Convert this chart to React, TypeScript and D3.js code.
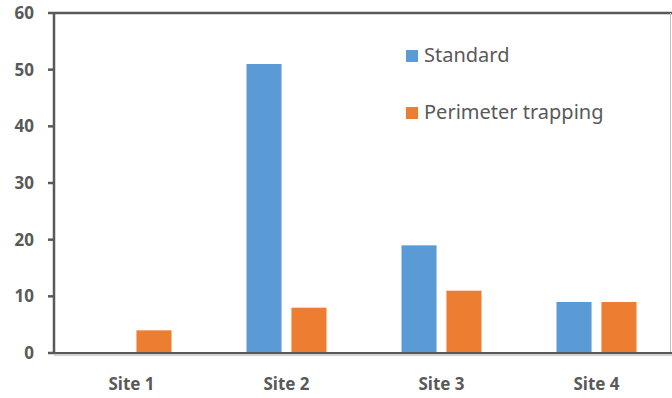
import * as d3 from 'd3';

const categories = ['Site 1', 'Site 2', 'Site 3', 'Site 4'];
const seriesNames = ['Standard', 'Perimeter trapping'];
const standardValues = [0, 51, 19, 9];
const perimeterValues = [4, 8, 11, 9];
const yTicks = [0, 10, 20, 30, 40, 50, 60];
const colors = ['#5B9BD5', '#ED7D31'];

const W = 672;
const H = 398;
const plot = { left: 54, right: 674, top: 13, bottom: 353 };
const axisColor = '#595959';
const font = "'Noto Sans', 'DejaVu Sans', sans-serif";

const App = () => {
  const x = d3.scaleBand().domain(categories).range([plot.left, plot.right]);
  // two bars per site, about 35px wide with a 10px gap
  const inner = d3
    .scaleBand()
    .domain(seriesNames)
    .range([0, 80])
    .paddingInner(0.22);
  const y = d3.scaleLinear().domain([0, 60]).range([plot.bottom, plot.top]);
  const series = [standardValues, perimeterValues];

  return (
    <svg
      width={W}
      height={H}
      style={{ position: 'absolute', left: 0, top: 0, background: '#fff' }}
      fontFamily={font}
    >
      {/* frame */}
      <line x1={plot.left} x2={W} y1={plot.top} y2={plot.top} stroke={axisColor} strokeWidth={2.5} />
      <line x1={670.5} x2={670.5} y1={plot.top} y2={plot.bottom} stroke="#bfbfbf" strokeWidth={1} />

      {/* bars */}
      {categories.map((c, i) => {
        const cx = (x(c) || 0) + x.bandwidth() / 2;
        return seriesNames.map((s, j) => {
          const v = series[j][i];
          if (!v) return null;
          return (
            <rect
              key={c + s}
              x={cx - 40 + (inner(s) || 0)}
              y={y(v)}
              width={inner.bandwidth()}
              height={y(0) - y(v)}
              fill={colors[j]}
            />
          );
        });
      })}

      {/* y axis */}
      <line x1={plot.left} x2={plot.left} y1={plot.top - 1} y2={plot.bottom + 1} stroke={axisColor} strokeWidth={2.5} />
      {yTicks.map((t) => (
        <g key={t}>
          <line x1={plot.left - 6} x2={plot.left} y1={y(t)} y2={y(t)} stroke={axisColor} strokeWidth={2.5} />
          <text
            x={34}
            y={y(t)}
            dy="0.35em"
            textAnchor="end"
            fontSize={17}
            fontWeight="bold"
            fill={axisColor}
          >
            {t}
          </text>
        </g>
      ))}

      {/* x axis */}
      <line x1={plot.left} x2={W} y1={plot.bottom} y2={plot.bottom} stroke={axisColor} strokeWidth={2} />
      <line x1={plot.left} x2={W} y1={plot.bottom + 2} y2={plot.bottom + 2} stroke="#a6a6a6" strokeWidth={1} />
      {categories.map((c) => (
        <text
          key={c}
          x={(x(c) || 0) + x.bandwidth() / 2}
          y={390}
          textAnchor="middle"
          fontSize={17}
          fontWeight="bold"
          fill={axisColor}
        >
          {c}
        </text>
      ))}

      {/* legend */}
      {seriesNames.map((s, j) => (
        <g key={s} transform={`translate(406, ${50 + j * 57})`}>
          <rect width={12} height={12} fill={colors[j]} />
          <text x={18} y={12} fontSize={20} fill={axisColor}>
            {s}
          </text>
        </g>
      ))}
    </svg>
  );
};

export default App;
